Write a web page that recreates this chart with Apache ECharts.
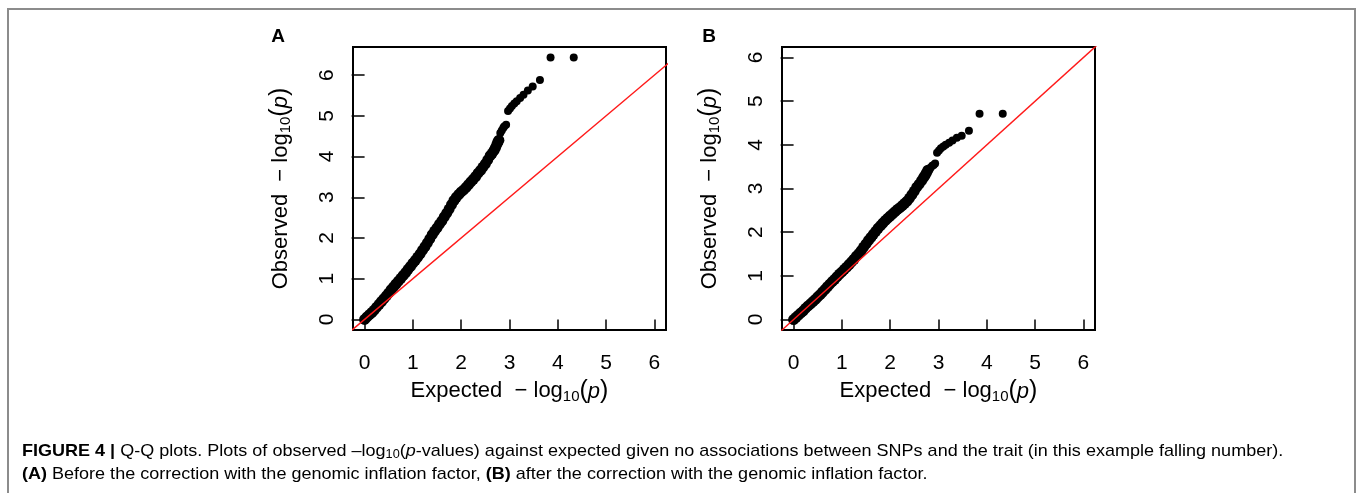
<!DOCTYPE html>
<html>
<head>
<meta charset="utf-8">
<script src="https://cdn.jsdelivr.net/npm/echarts@6/dist/echarts.min.js"></script>
<style>
html,body{margin:0;padding:0;background:#fff;}
#chart{width:1358px;height:493px;}
</style>
</head>
<body>
<div id="chart"></div>
<script>
// ---------- data ----------
const tickValues = [0, 1, 2, 3, 4, 5, 6];
const tickLabels = ['0', '1', '2', '3', '4', '5', '6'];

// Panel A: before correction  [expected, observed]
const qqA_bulk = [
  [0.00,0.00],[0.05,0.06],[0.10,0.115],[0.15,0.17],[0.20,0.23],[0.25,0.30],[0.30,0.37],[0.35,0.44],
  [0.40,0.51],[0.45,0.58],[0.50,0.65],[0.55,0.73],[0.60,0.80],[0.65,0.87],[0.70,0.94],[0.75,1.01],
  [0.80,1.08],[0.85,1.15],[0.90,1.23],[0.95,1.30],[1.00,1.38],[1.05,1.45],[1.10,1.53],[1.15,1.61],
  [1.20,1.70],[1.25,1.79],[1.30,1.88],[1.35,1.98],[1.40,2.08],[1.45,2.17],[1.50,2.25],[1.55,2.34],
  [1.60,2.42],[1.65,2.52],[1.70,2.61],[1.75,2.71],[1.80,2.82],[1.85,2.92],[1.90,3.00],[1.95,3.07],
  [2.00,3.13],[2.05,3.18],[2.10,3.24],[2.15,3.31],[2.20,3.38],[2.25,3.44],[2.30,3.51],[2.35,3.59],
  [2.40,3.66],[2.45,3.74],[2.50,3.82],[2.55,3.92],[2.60,4.02],[2.64,4.08],[2.68,4.15],[2.71,4.22],
  [2.74,4.30],[2.76,4.36],[2.78,4.40]
];
const qqA_tail = [
  [2.81,4.58],[2.84,4.64],[2.87,4.70],[2.89,4.74],[2.93,4.78],[2.97,5.12],[3.01,5.18],[3.05,5.24],
  [3.10,5.30],[3.15,5.36],[3.22,5.44],[3.29,5.52],[3.38,5.62],[3.48,5.72],[3.63,5.88],[3.85,6.43],
  [4.33,6.43]
];

// Panel B: after correction  [expected, observed]
const qqB_bulk = [
  [0.00,0.00],[0.05,0.05],[0.10,0.10],[0.15,0.15],[0.20,0.20],[0.25,0.26],[0.30,0.31],[0.35,0.36],
  [0.40,0.41],[0.45,0.46],[0.50,0.52],[0.55,0.57],[0.60,0.63],[0.65,0.69],[0.70,0.75],[0.75,0.81],
  [0.80,0.87],[0.85,0.92],[0.90,0.98],[0.95,1.04],[1.00,1.09],[1.05,1.15],[1.10,1.20],[1.15,1.26],
  [1.20,1.32],[1.25,1.38],[1.30,1.45],[1.35,1.51],[1.40,1.58],[1.45,1.66],[1.50,1.73],[1.55,1.81],
  [1.60,1.88],[1.65,1.95],[1.70,2.02],[1.75,2.09],[1.80,2.15],[1.85,2.21],[1.90,2.27],[1.95,2.32],
  [2.00,2.37],[2.05,2.42],[2.10,2.47],[2.15,2.52],[2.20,2.56],[2.25,2.61],[2.30,2.66],[2.35,2.71],
  [2.40,2.78],[2.45,2.86],[2.50,2.94],[2.55,3.03],[2.60,3.10],[2.65,3.18],[2.69,3.25],[2.72,3.30],
  [2.75,3.36],[2.78,3.42]
];
const qqB_tail = [
  [2.81,3.45],[2.84,3.48],[2.87,3.52],[2.90,3.54],[2.93,3.57],[2.97,3.82],[3.01,3.87],[3.05,3.92],
  [3.10,3.96],[3.15,4.00],[3.22,4.05],[3.29,4.10],[3.38,4.16],[3.48,4.21],[3.63,4.32],[3.85,4.71],
  [4.33,4.71]
];

// identity reference line y = x (clipped by the plot box)
const identityLine = [[-1, -1], [7, 7]];

const panelLabels = ['A', 'B'];
const xTitle = 'Expected';
const yTitle = 'Observed';
const captionLine1 = ['FIGURE 4 |', ' Q-Q plots. Plots of observed \u2013log', '10', '(', 'p', '-values) against expected given no associations between SNPs and the trait (in this example falling number).'];
const captionLine2 = ['(A)', ' Before the correction with the genomic inflation factor, ', '(B)', ' after the correction with the genomic inflation factor.'];

// ---------- chart ----------
const FONT = 'Liberation Sans, Arial, Helvetica, sans-serif';
const chart = echarts.init(document.getElementById('chart'), null, {renderer: 'canvas'});

const titleRich = {
  t: {fontSize: 22, fontFamily: FONT, color: '#000'},
  s: {fontSize: 15, fontFamily: FONT, color: '#000', padding: [10, 0, 0, 0]},
  par: {fontSize: 25, fontFamily: FONT, color: '#000'},
  i: {fontSize: 22, fontFamily: FONT, fontStyle: 'italic', color: '#000'}
};
function axisTitle(word) {
  return '{t|' + word + '  \u2212 log}{s|10}{par|(}{i|p}{par|)}';
}

const grids = [
  {left: 353, top: 47, width: 313, height: 283},
  {left: 782, top: 47, width: 313, height: 283}
].map(g => Object.assign(g, {show: true, borderColor: '#000', borderWidth: 2, backgroundColor: 'transparent'}));

const yRanges = [[-0.26, 6.69], [-0.24, 6.24]];

function makeX(i) {
  return {
    gridIndex: i, type: 'value', min: -0.24, max: 6.24,
    axisLine: {show: false}, splitLine: {show: false},
    axisTick: {show: true, inside: false, length: 11, customValues: tickValues, lineStyle: {color: '#000', width: 1.5}},
    axisLabel: {customValues: tickValues, formatter: v => tickLabels[tickValues.indexOf(v)], fontSize: 21, fontFamily: FONT, color: '#000', margin: 23},
    name: axisTitle(xTitle), nameLocation: 'middle', nameGap: 46,
    nameTextStyle: {rich: titleRich}
  };
}
function makeY(i) {
  return {
    gridIndex: i, type: 'value', min: yRanges[i][0], max: yRanges[i][1],
    axisLine: {show: false}, splitLine: {show: false},
    axisTick: {show: true, inside: false, length: 13, customValues: tickValues, lineStyle: {color: '#000', width: 1.5}},
    axisLabel: {customValues: tickValues, formatter: v => tickLabels[tickValues.indexOf(v)], rotate: 90, fontSize: 21, fontFamily: FONT, color: '#000', margin: 15},
    name: axisTitle(yTitle), nameLocation: 'middle', nameGap: 60, nameRotate: 90,
    nameTextStyle: {rich: titleRich}
  };
}

function scatter(i, data, size) {
  return {type: 'scatter', xAxisIndex: i, yAxisIndex: i, data: data, symbol: 'circle', symbolSize: size,
    itemStyle: {color: '#000', opacity: 1}, silent: true, z: 2};
}
function refLine(i) {
  return {type: 'line', xAxisIndex: i, yAxisIndex: i, data: identityLine, showSymbol: false, clip: true,
    lineStyle: {color: '#ff1a1a', width: 1.4}, silent: true, z: 3};
}

const capRich = {
  b: {fontSize: 17, fontFamily: FONT, fontWeight: 'bold', color: '#333'},
  r: {fontSize: 17, fontFamily: FONT, color: '#333'},
  s: {fontSize: 12, fontFamily: FONT, color: '#333', padding: [7, 0, 0, 0]},
  i: {fontSize: 17, fontFamily: FONT, fontStyle: 'italic', color: '#333'}
};
const cap1 = '{b|' + captionLine1[0] + '}{r|' + captionLine1[1] + '}{s|' + captionLine1[2] + '}{r|' + captionLine1[3] + '}{i|' + captionLine1[4] + '}{r|' + captionLine1[5] + '}';
const cap2 = '{b|' + captionLine2[0] + '}{r|' + captionLine2[1] + '}{b|' + captionLine2[2] + '}{r|' + captionLine2[3] + '}';

const option = {
  backgroundColor: '#fff',
  animation: false,
  grid: grids,
  xAxis: [makeX(0), makeX(1)],
  yAxis: [makeY(0), makeY(1)],
  series: [
    scatter(0, qqA_bulk, 11), scatter(0, qqA_tail, 8), refLine(0),
    scatter(1, qqB_bulk, 11), scatter(1, qqB_tail, 8), refLine(1)
  ],
  graphic: [
    {type: 'rect', shape: {x: 8, y: 9, width: 1347, height: 520}, style: {fill: 'none', stroke: '#8c8c8c', lineWidth: 2}, silent: true},
    {type: 'text', x: 278, y: 37, style: {text: panelLabels[0], font: 'bold 19px ' + FONT, fill: '#000', align: 'center', verticalAlign: 'middle'}},
    {type: 'text', x: 709, y: 37, style: {text: panelLabels[1], font: 'bold 19px ' + FONT, fill: '#000', align: 'center', verticalAlign: 'middle'}},
    {type: 'text', x: 22, y: 451, scaleX: 1.06, style: {text: cap1, rich: capRich, align: 'left', verticalAlign: 'middle'}},
    {type: 'text', x: 22, y: 474, scaleX: 1.06, style: {text: cap2, rich: capRich, align: 'left', verticalAlign: 'middle'}}
  ]
};
chart.setOption(option);
</script>
</body>
</html>
